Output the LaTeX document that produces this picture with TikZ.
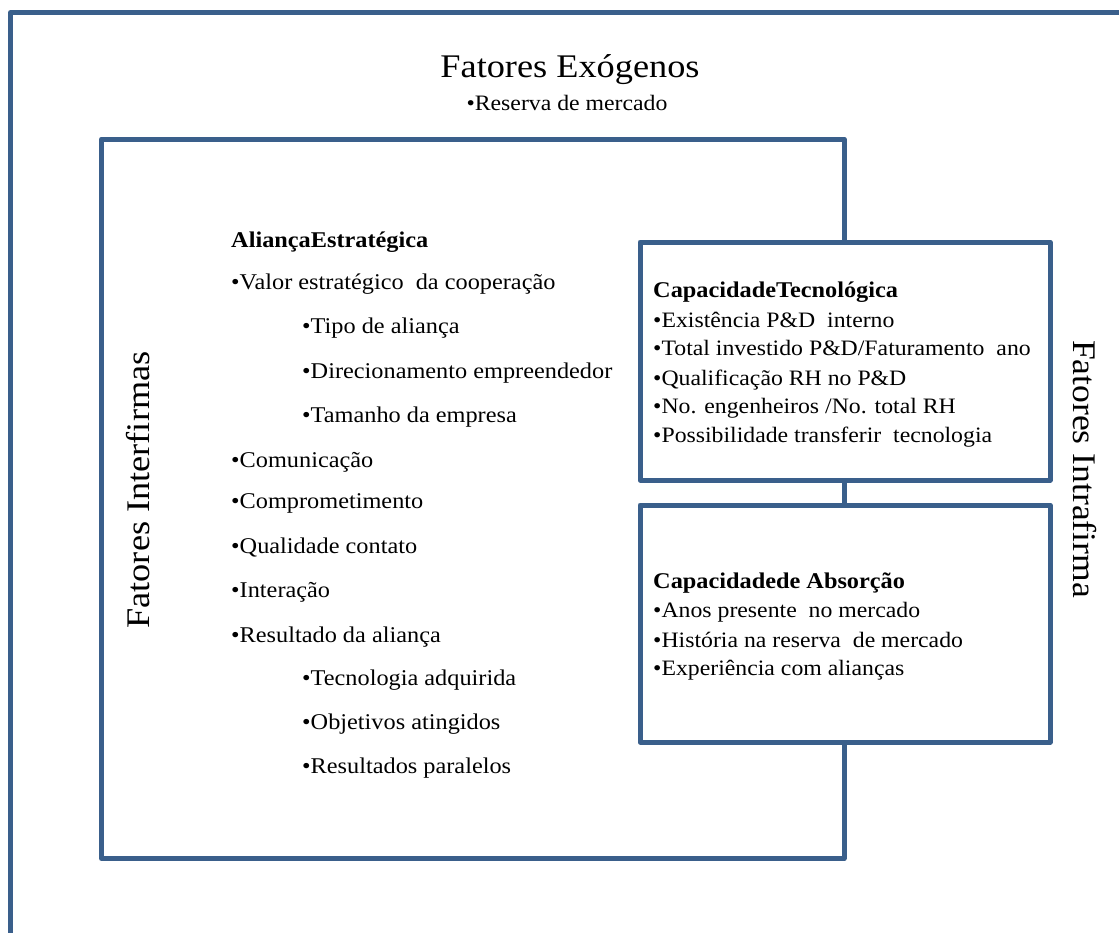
\documentclass[tikz,border=0pt]{standalone}
\usepackage{fontspec}
\setmainfont{Liberation Serif}
\definecolor{frame}{RGB}{58,95,139}
\tikzset{
  frameline/.style={draw=frame, line width=5pt, line join=round},
  panel/.style={frameline, fill=white, minimum width=410pt, minimum height=238pt, inner sep=0pt, outer sep=0pt},
  bigtxt/.style={font=\fontsize{33}{36}\selectfont, inner sep=0pt, xscale=1.1},
  mid/.style={font=\fontsize{22}{25}\selectfont, inner sep=0pt, anchor=base, xscale=1.08},
  item/.style={font=\fontsize{22.5}{25}\selectfont, inner sep=0pt, anchor=base west, xscale=1.08},
  pitem/.style={font=\fontsize{22}{25}\selectfont, inner sep=0pt, anchor=base west, xscale=1.08},
  head/.style={font=\bfseries\fontsize{22.5}{25}\selectfont, inner sep=0pt, anchor=base west, xscale=1.08},
}
\begin{document}
\begin{tikzpicture}[x=1pt, y=-1pt]
\path[use as bounding box] (0,0) rectangle (1119,932);
\clip (0,0) rectangle (1119,932);
% outer frame (Fatores Exogenos), runs off right and bottom
\coordinate (ob) at (10.5,945);
\coordinate (otl) at (10.5,12.5);
\coordinate (otr) at (1135,12.5);
\draw[frameline] (ob) -- (otl) -- (otr);
% inner frame (Fatores Interfirmas)
\coordinate (itl) at (101.5,139);
\coordinate (ibr) at (844,858.5);
\draw[frameline] (itl) rectangle (ibr);
% intrafirma panels
\node[panel] (tec) at (845,361) {};
\node[panel, minimum height=237pt] (abs) at (845,623.5) {};

% titles
\node[bigtxt, anchor=base] (exo) at (570,77) {Fatores Exógenos};
\node[mid] (res) at (567,110) {•Reserva de mercado};
\node[rotate=90, bigtxt] (inter) at (138,490) {Fatores Interfirmas};
\node[rotate=-90, bigtxt, xscale=0.98] (intra) at (1085,469) {Fatores Intrafirma};

% Alianca Estrategica
\node[head] (ae) at (231,247) {AliançaEstratégica};
\node[item] (a1) at (231,289) {•Valor estratégico \ da cooperação};
\node[item] (a2) at (302,333) {•Tipo de aliança};
\node[item] (a3) at (302,378) {•Direcionamento empreendedor};
\node[item] (a4) at (302,422) {•Tamanho da empresa};
\node[item] (a5) at (231,467) {•Comunicação};
\node[item] (a6) at (231,508) {•Comprometimento};
\node[item] (a7) at (231,553) {•Qualidade contato};
\node[item] (a8) at (231,597) {•Interação};
\node[item] (a9) at (231,642) {•Resultado da aliança};
\node[item] (a10) at (302,685) {•Tecnologia adquirida};
\node[item] (a11) at (302,729) {•Objetivos atingidos};
\node[item] (a12) at (302,773) {•Resultados paralelos};

% Capacidade Tecnologica
\node[head] (ct) at (653,297) {CapacidadeTecnológica};
\node[pitem] (t1) at (653,327) {•Existência P\&D \ interno};
\node[pitem] (t2) at (653,355) {•Total investido P\&D/Faturamento \ ano};
\node[pitem] (t3) at (653,385) {•Qualificação RH no P\&D};
\node[pitem] (t4) at (653,413) {•No. engenheiros /No. total RH};
\node[pitem] (t5) at (653,442) {•Possibilidade transferir \ tecnologia};

% Capacidade de Absorcao
\node[head] (ca) at (653,588) {Capacidadede Absorção};
\node[pitem] (b1) at (653,617) {•Anos presente \ no mercado};
\node[pitem] (b2) at (653,647) {•História na reserva \ de mercado};
\node[pitem] (b3) at (653,675) {•Experiência com alianças};
\end{tikzpicture}
\end{document}
